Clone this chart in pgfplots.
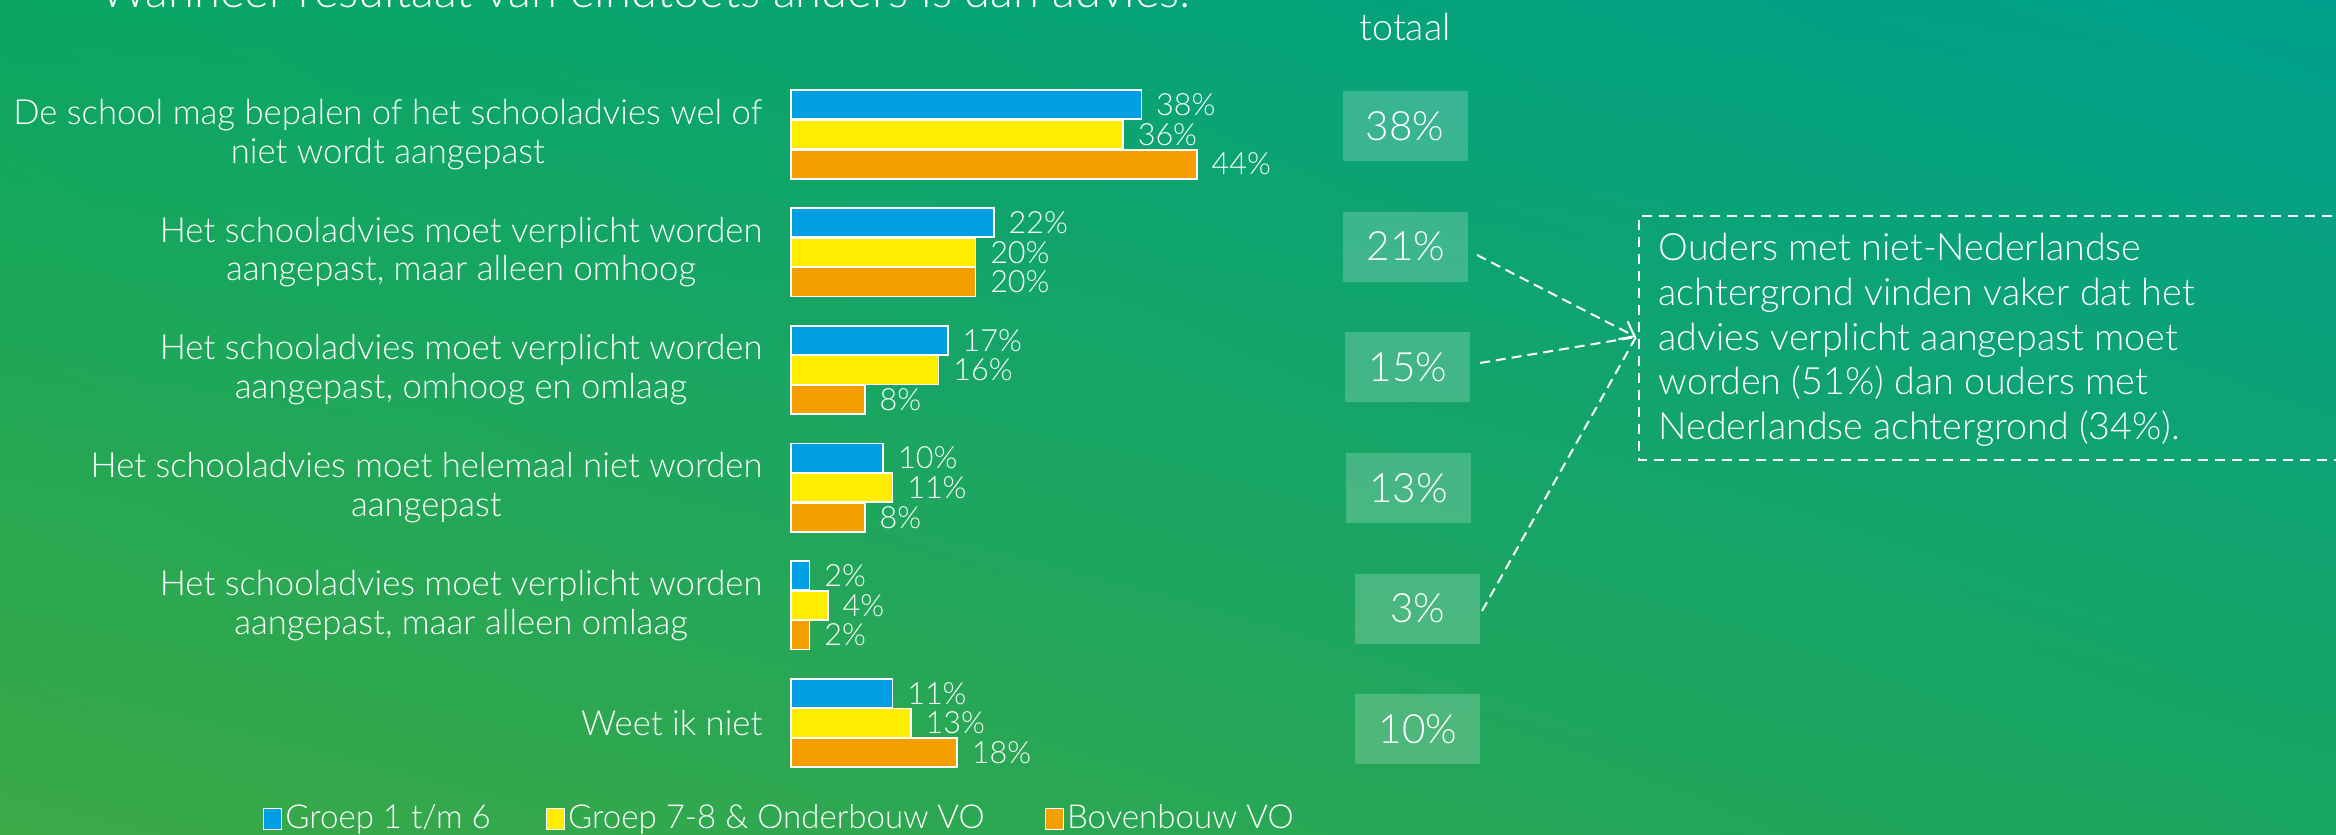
\documentclass[border=0pt]{standalone}
\usepackage{pgfplots}
\pgfplotsset{compat=1.18}
\usepackage{pgfplotstable}
\usepackage{fontspec}
\IfFontExistsTF{Lato Light}{\setmainfont{Lato Light}}{\setmainfont{Lato}}
\usetikzlibrary{arrows.meta,shadings}
\definecolor{cblue}{RGB}{0,159,227}
\definecolor{cyellow}{RGB}{255,237,0}
\definecolor{corange}{RGB}{245,158,0}
\definecolor{bgUL}{RGB}{10,166,98}
\definecolor{bgUR}{RGB}{0,160,142}
\definecolor{bgLL}{RGB}{60,169,70}
\definecolor{bgLR}{RGB}{24,165,96}

\pgfplotstableread{
y v
-0.2523 38
0.7477 22
1.7477 17
2.7477 10
3.7477 2
4.7477 11
}\tblblue
\pgfplotstableread{
y v
0 36
1 20
2 16
3 11
4 4
5 13
}\tblyellow
\pgfplotstableread{
y v
0.2523 44
1.2523 20
2.2523 8
3.2523 8
4.2523 2
5.2523 18
}\tblorange
\pgfplotstableread{
x y t
66.6 -0.073 38
66.7 0.952 21
66.9 1.977 15
67.0 3.002 13
68.0 4.028 3
68.0 5.054 10
}\tbltotal

\begin{document}
\begin{tikzpicture}
\path[use as bounding box] (0,0) rectangle (233.6mm,83.5mm);
\shade[upper left=bgUL, upper right=bgUR, lower left=bgLL, lower right=bgLR] (0,0) rectangle (233.6mm,83.5mm);
\node[anchor=base west, inner sep=0pt, text=white, font=\fontsize{13.4}{16}\selectfont] at (9.95mm,82.7mm) {Wanneer resultaat van eindtoets anders is dan advies:};
\node[text=white, font=\fontsize{10.7}{12.7}\selectfont] at (140.5mm,80.8mm) {totaal};
\begin{axis}[
  at={(79.1mm,75.935mm)}, anchor=north west,
  x=0.922mm, y=11.77mm, y dir=reverse,
  xmin=0, xmax=100, ymin=-0.5, ymax=5.5,
  clip=false,
  /pgf/number format/assume math mode=true,
  axis line style={draw=none},
  xtick=\empty,
  ytick={0,1,2,3,4,5},
  major tick length=0pt,
  yticklabels={
    {De school mag bepalen of het schooladvies wel of\\niet wordt aangepast},
    {Het schooladvies moet verplicht worden\\aangepast, maar alleen omhoog},
    {Het schooladvies moet verplicht worden\\aangepast, omhoog en omlaag},
    {Het schooladvies moet helemaal niet worden\\aangepast},
    {Het schooladvies moet verplicht worden\\aangepast, maar alleen omlaag},
    {Weet ik niet}},
  yticklabel style={align=center, text=white, inner xsep=0pt, xshift=-2.8mm, font=\fontsize{9.86}{11}\selectfont},
  legend columns=3,
  legend style={at={(-0.5850,-0.0526)}, anchor=west, draw=none, fill=none, text=white,
    font=\fontsize{9.4}{12}\selectfont, nodes={inner sep=0pt},
    column sep=0.3mm,
    /tikz/column 2/.style={column sep=5.5mm},
    /tikz/column 4/.style={column sep=6mm}},
  legend image code/.code={\draw[#1, draw=white, line width=0.15mm] (0mm,-1.05mm) rectangle (1.8mm,1.05mm);},
  bars/.style={xbar, bar shift=0pt, bar width=2.9mm, draw=white, line width=0.17mm,
    point meta=x, nodes near coords={\pgfmathprintnumber{\pgfplotspointmeta}\%},
    nodes near coords align={horizontal},
    every node near coord/.append style={text=white, inner xsep=1.4mm, inner ysep=0pt, font=\fontsize{8.7}{10}\selectfont}},
]
\addplot[bars, fill=cblue] table[x=v, y=y] {\tblblue};
\addlegendentry{Groep 1 t/m 6}
\addplot[bars, fill=cyellow] table[x=v, y=y] {\tblyellow};
\addlegendentry{Groep 7-8 \& Onderbouw VO}
\addplot[bars, fill=corange] table[x=v, y=y] {\tblorange};
\addlegendentry{Bovenbouw VO}
\addplot[forget plot, draw=none, mark=none, point meta=explicit,
  nodes near coords={\pgfmathprintnumber{\pgfplotspointmeta}\%},
  every node near coord/.append style={anchor=center, fill=white, fill opacity=0.2, text opacity=1, text=white,
    minimum width=12.5mm, minimum height=7mm, inner sep=0pt, font=\fontsize{11.5}{13}\selectfont}]
  table[x=x, y=y, meta=t] {\tbltotal};
\end{axis}
\draw[white, line width=0.2mm, dash pattern=on 1mm off 0.7mm] (240mm,61.9mm) -- (163.9mm,61.9mm) -- (163.9mm,37.5mm) -- (240mm,37.5mm);
\node[anchor=west, inner sep=0pt, text=white, align=left, font=\fontsize{10.7}{12.7}\selectfont] at (165.8mm,49.5mm)
  {Ouders met niet-Nederlandse\\achtergrond vinden vaker dat het\\advies verplicht aangepast moet\\worden (51\%) dan ouders met\\Nederlandse achtergrond (34\%).};
\begin{scope}[white, line width=0.2mm, dash pattern=on 1mm off 0.6mm]
\draw[-{Straight Barb[length=1.3mm, width=2mm]}] (147.7mm,58.0mm) -- (163.6mm,49.8mm);
\draw (148.0mm,47.2mm) -- (163.6mm,49.8mm);
\draw (148.2mm,22.4mm) -- (163.6mm,49.8mm);
\end{scope}
\end{tikzpicture}
\end{document}
